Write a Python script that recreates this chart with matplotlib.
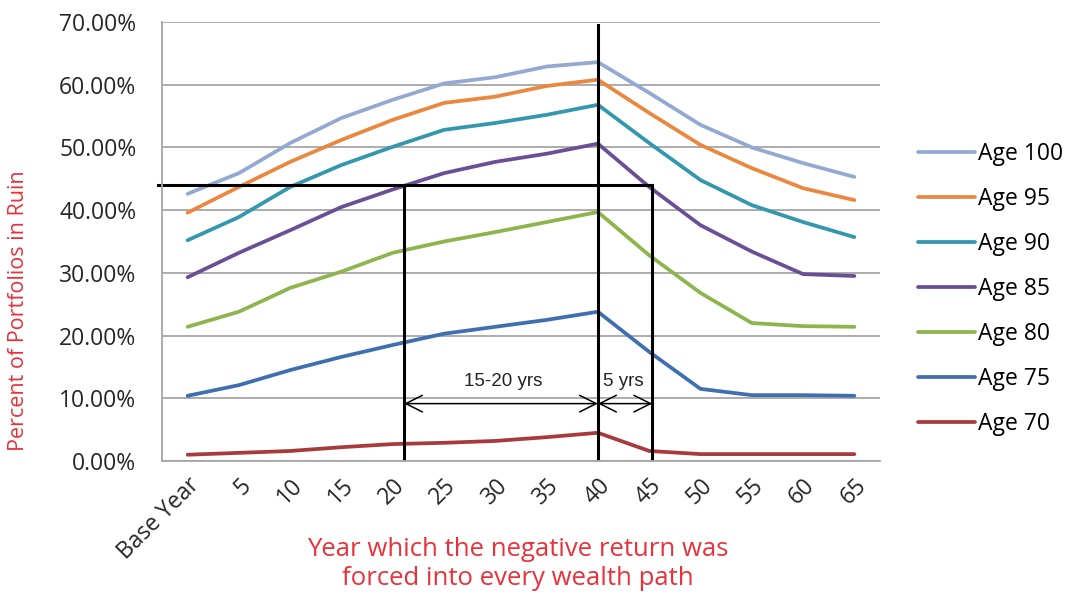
import matplotlib.pyplot as plt
import numpy as np
from matplotlib.ticker import PercentFormatter

# Categories on the x axis
years = ['Base Year', '5', '10', '15', '20', '25', '30', '35', '40',
         '45', '50', '55', '60', '65']

# Percent of portfolios in ruin
age100 = [42.6, 45.9, 50.7, 54.7, 57.6, 60.2, 61.2, 62.9, 63.6, 58.7, 53.6, 50.0, 47.5, 45.3]
age95 = [39.6, 43.7, 47.7, 51.2, 54.4, 57.1, 58.1, 59.8, 60.8, 55.5, 50.4, 46.7, 43.5, 41.6]
age90 = [35.2, 38.9, 43.7, 47.2, 50.1, 52.8, 53.9, 55.2, 56.8, 50.7, 44.8, 40.8, 38.1, 35.7]
age85 = [29.3, 33.2, 36.8, 40.5, 43.3, 45.9, 47.7, 49.0, 50.6, 43.7, 37.6, 33.4, 29.8, 29.5]
age80 = [21.4, 23.8, 27.6, 30.2, 33.2, 35.0, 36.5, 38.1, 39.7, 32.8, 26.8, 22.0, 21.5, 21.4]
age75 = [10.4, 12.1, 14.5, 16.6, 18.5, 20.3, 21.4, 22.5, 23.8, 17.4, 11.5, 10.5, 10.5, 10.4]
age70 = [1.0, 1.3, 1.6, 2.2, 2.7, 2.9, 3.2, 3.8, 4.5, 1.6, 1.1, 1.1, 1.1, 1.1]

series = [('Age 100', age100, '#93a9d2'),
          ('Age 95', age95, '#e9883e'),
          ('Age 90', age90, '#3397ae'),
          ('Age 85', age85, '#6a4e96'),
          ('Age 80', age80, '#8db54c'),
          ('Age 75', age75, '#3f6fb0'),
          ('Age 70', age70, '#a83a3e')]

# Annotation guides (category index / percent)
peak_x = 8.0
start_x = 4.22
end_x = 9.06
level_y = 44.0
arrow_y = 9.15

plt.rcParams['font.family'] = ['Open Sans', 'DejaVu Sans']

fig = plt.figure(figsize=(10.72, 5.94), dpi=100)
ax = fig.add_axes([162 / 1072, 1 - 461 / 594, 718 / 1072, 439 / 594])

x = np.arange(len(years))
for name, vals, col in series:
    ax.plot(x, vals, color=col, linewidth=2.7, label=name, solid_capstyle='round')

ax.set_xlim(-0.5, len(years) - 0.5)
ax.set_ylim(0, 70)
ax.set_yticks(np.arange(0, 71, 10))
ax.yaxis.set_major_formatter(PercentFormatter(decimals=2))
ax.set_xticks(x)
ax.set_xticklabels(years, rotation=45, ha='right', rotation_mode='anchor')
ax.tick_params(axis='both', length=0, labelsize=16.5, labelcolor='#262626')
ax.tick_params(axis='y', pad=18.5)
ax.tick_params(axis='x', pad=9)

ax.grid(axis='y', color='#a6a6a6', linewidth=1.3)
ax.set_axisbelow(True)
for s in ['top', 'right']:
    ax.spines[s].set_visible(False)
for s in ['left', 'bottom']:
    ax.spines[s].set_color('#a6a6a6')
    ax.spines[s].set_linewidth(1.3)

# Black guide lines
ax.plot([peak_x, peak_x], [0, 69.5], color='black', linewidth=2.2)
ax.plot([-0.58, end_x], [level_y, level_y], color='black', linewidth=2.2, clip_on=False)
ax.plot([start_x, start_x], [0, level_y], color='black', linewidth=2.2)
ax.plot([end_x, end_x], [0, level_y], color='black', linewidth=2.2)

arrow = dict(arrowstyle='<->,head_length=0.6,head_width=0.3', color='black',
             linewidth=1.1, shrinkA=0, shrinkB=0, mutation_scale=20)
ax.annotate('', xy=(start_x, arrow_y), xytext=(peak_x, arrow_y), arrowprops=arrow)
ax.annotate('', xy=(peak_x, arrow_y), xytext=(end_x, arrow_y), arrowprops=arrow)
ax.text(6.15, 12.6, '15-20 yrs', family='Liberation Sans',
        fontsize=13.5, ha='center', va='center', color='#222222')
ax.text(8.5, 12.6, '5 yrs', family='Liberation Sans',
        fontsize=13.5, ha='center', va='center', color='#222222')

fig.text(19 / 1072, 1 - 311 / 594, 'Percent of Portfolios in Ruin', color='#e8313a',
         fontsize=15.5, rotation=90, ha='center', va='center')
fig.text(518 / 1072, 1 - 564 / 594,
         'Year which the negative return was\nforced into every wealth path',
         color='#e8313a', fontsize=18.5, ha='center', va='center', linespacing=1.2)

fig.legend(loc='center left', bbox_to_anchor=(909 / 1072, 1 - 289 / 594), frameon=False,
           fontsize=16.5, handlelength=2.5, handletextpad=0.1, labelspacing=0.91,
           borderaxespad=0)

fig.savefig('out.png', dpi=100)
